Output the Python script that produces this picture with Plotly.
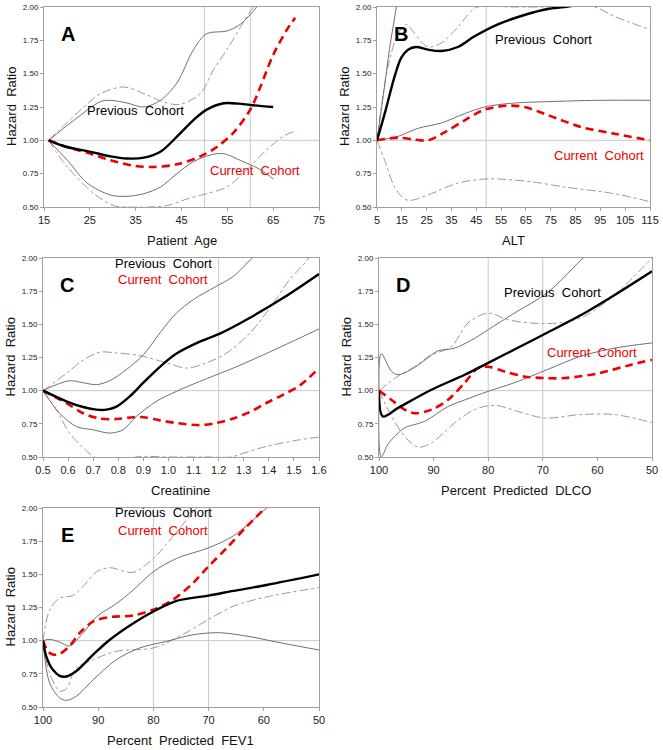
import plotly.graph_objects as go

# ---------------- Data ----------------
# Panel A: Patient Age
A_prev_x = [16, 20, 25.2, 29.5, 33.1, 36.8, 40.4, 44, 47.6, 50.5, 54.2, 57.5, 60, 65]
A_prev_y = [1.00, 0.95, 0.914, 0.88, 0.864, 0.87, 0.914, 1.027, 1.152, 1.23, 1.278, 1.275, 1.265, 1.25]
A_cur_x = [16, 20, 25.2, 29.5, 34.6, 38.9, 44, 49.1, 52.7, 56.4, 60, 62.2, 65, 68, 69.8]
A_cur_y = [1.00, 0.95, 0.90, 0.85, 0.81, 0.80, 0.82, 0.88, 0.95, 1.06, 1.23, 1.40, 1.64, 1.83, 1.92]
A_prev_up_x = [16, 21.5, 27.3, 29.5, 33.1, 36.8, 40.4, 44, 47.6, 50.5, 54.9, 57.8, 61.4, 63]
A_prev_up_y = [1.00, 1.15, 1.29, 1.30, 1.28, 1.25, 1.30, 1.43, 1.68, 1.80, 1.82, 1.87, 2.00, 2.08]
A_prev_lo_x = [16, 20.1, 24.4, 29.5, 33.1, 36.8, 40.4, 44, 47.6, 51.3, 54.2, 57.8, 62.2, 65]
A_prev_lo_y = [1.00, 0.85, 0.68, 0.59, 0.58, 0.60, 0.65, 0.75, 0.84, 0.89, 0.90, 0.85, 0.78, 0.71]
A_cur_up_x = [16, 23.7, 27.3, 32.4, 36.8, 41.8, 44.7, 49.1, 52, 54.9, 59.3, 60.7, 62]
A_cur_up_y = [1.00, 1.25, 1.35, 1.40, 1.35, 1.28, 1.27, 1.35, 1.53, 1.68, 1.93, 2.00, 2.06]
A_cur_lo_x = [16, 20.1, 25.9, 30.2, 33, 38, 41.8, 46.2, 50.5, 54.9, 59.3, 63.6, 67.2, 69.8]
A_cur_lo_y = [1.00, 0.80, 0.60, 0.51, 0.50, 0.50, 0.51, 0.56, 0.60, 0.65, 0.78, 0.93, 1.03, 1.07]

# Panel B: ALT
B_prev_x = [5, 8.1, 12.1, 14.8, 17.5, 20.8, 25.5, 30.9, 37.6, 44.3, 53.7, 64.4, 73.8, 80.5, 90]
B_prev_y = [1.00, 1.20, 1.48, 1.62, 1.68, 1.70, 1.68, 1.67, 1.70, 1.78, 1.87, 1.94, 1.985, 2.00, 2.03]
B_cur_x = [5, 13.5, 20.2, 25.5, 32.2, 40.3, 48.3, 57.7, 64.4, 73.8, 87.2, 100.6, 115]
B_cur_y = [1.00, 1.02, 1.005, 1.00, 1.06, 1.15, 1.23, 1.26, 1.25, 1.19, 1.10, 1.05, 1.00]
B_prev_up_x = [5, 8, 10, 12.8, 13.5]
B_prev_up_y = [1.00, 1.40, 1.68, 2.00, 2.08]
B_prev_lo_x = [5, 13.5, 21.5, 30.9, 40.3, 48.3, 60.4, 73.8, 93.9, 115]
B_prev_lo_y = [1.00, 1.03, 1.09, 1.13, 1.20, 1.25, 1.28, 1.29, 1.30, 1.30]
B_cur_up_x = [5, 9.4, 13.5, 16.8, 20.2, 25.5, 30.9, 37.6, 43, 45.6, 60, 80, 92.6, 100.6, 115]
B_cur_up_y = [1.00, 1.55, 1.80, 1.87, 1.80, 1.70, 1.73, 1.85, 1.97, 2.00, 2.00, 2.00, 2.00, 1.93, 1.83]
B_cur_lo_x = [5, 8.1, 12.1, 16.1, 18.8, 26.9, 37.6, 48.3, 53.7, 67.1, 80.5, 100.6, 115]
B_cur_lo_y = [1.00, 0.85, 0.65, 0.56, 0.55, 0.60, 0.68, 0.71, 0.71, 0.69, 0.65, 0.60, 0.54]

# Panel C: Creatinine
C_prev_x = [0.5, 0.593, 0.66, 0.713, 0.753, 0.793, 0.846, 0.9, 0.966, 1.032, 1.125, 1.205, 1.325, 1.458, 1.6]
C_prev_y = [1.00, 0.92, 0.877, 0.857, 0.857, 0.88, 0.957, 1.06, 1.18, 1.28, 1.37, 1.43, 1.55, 1.70, 1.88]
C_cur_x = [0.5, 0.593, 0.66, 0.726, 0.793, 0.86, 0.9, 0.966, 1.032, 1.125, 1.19, 1.258, 1.325, 1.39, 1.458, 1.524, 1.6]
C_cur_y = [1.00, 0.907, 0.83, 0.79, 0.786, 0.80, 0.80, 0.776, 0.756, 0.74, 0.756, 0.79, 0.84, 0.907, 0.97, 1.04, 1.17]
C_prev_up_x = [0.5, 0.553, 0.606, 0.66, 0.713, 0.766, 0.833, 0.9, 0.966, 1.032, 1.099, 1.19, 1.258, 1.334, 1.36]
C_prev_up_y = [1.00, 1.045, 1.075, 1.06, 1.045, 1.075, 1.16, 1.27, 1.435, 1.585, 1.686, 1.786, 1.86, 2.00, 2.04]
C_prev_lo_x = [0.5, 0.566, 0.633, 0.7, 0.766, 0.819, 0.872, 0.952, 1.032, 1.125, 1.258, 1.39, 1.6]
C_prev_lo_y = [1.00, 0.83, 0.73, 0.705, 0.68, 0.705, 0.806, 0.92, 0.995, 1.07, 1.17, 1.28, 1.465]
C_cur_up_x = [0.5, 0.593, 0.66, 0.726, 0.793, 0.886, 0.992, 1.072, 1.152, 1.232, 1.325, 1.418, 1.484, 1.55, 1.57]
C_cur_up_y = [1.00, 1.13, 1.23, 1.29, 1.284, 1.264, 1.21, 1.17, 1.21, 1.284, 1.435, 1.66, 1.84, 1.975, 2.03]
C_cur_lo_x = [0.5, 0.553, 0.606, 0.66, 0.7, 0.78, 0.87, 1.0, 1.15, 1.25, 1.285, 1.39, 1.524, 1.6]
C_cur_lo_y = [1.00, 0.857, 0.68, 0.57, 0.505, 0.44, 0.50, 0.50, 0.50, 0.50, 0.52, 0.58, 0.63, 0.65]

# Panel D: Percent Predicted DLCO
D_prev_x = [100, 99.3, 96.5, 90.4, 84.3, 80, 75.2, 70, 63, 56.9, 50]
D_prev_y = [1.00, 0.806, 0.87, 1.007, 1.12, 1.21, 1.31, 1.42, 1.57, 1.72, 1.90]
D_cur_x = [100, 97.7, 95.3, 93.5, 90.4, 87.4, 84.3, 81.9, 80, 77, 73.4, 69.7, 66, 59.9, 53.8, 50]
D_cur_y = [1.00, 0.93, 0.857, 0.83, 0.857, 0.93, 1.06, 1.17, 1.18, 1.145, 1.107, 1.095, 1.095, 1.13, 1.196, 1.233]
D_prev_up_x = [100, 99.6, 97.7, 96.5, 94.1, 91.6, 89.2, 86.2, 83.1, 80, 75.2, 69.1, 62.6, 61]
D_prev_up_y = [1.00, 1.28, 1.145, 1.12, 1.16, 1.23, 1.30, 1.32, 1.38, 1.46, 1.585, 1.74, 2.00, 2.05]
D_prev_lo_x = [100, 99.6, 98.3, 96.5, 95.3, 91.6, 87.4, 84.3, 80, 75.2, 69.1, 63, 56.9, 50]
D_prev_lo_y = [1.00, 0.50, 0.60, 0.68, 0.72, 0.77, 0.88, 0.93, 0.995, 1.06, 1.16, 1.26, 1.32, 1.36]
D_cur_up_x = [100, 96.5, 93.5, 90.4, 86.8, 83.7, 80, 76.4, 72.1, 67.3, 62.4, 56.9, 50]
D_cur_up_y = [1.00, 1.11, 1.18, 1.27, 1.33, 1.51, 1.585, 1.535, 1.51, 1.51, 1.56, 1.72, 2.00]
D_cur_lo_x = [100, 97.7, 95.3, 92.9, 90.4, 86.2, 82.5, 78.8, 74.6, 69.7, 63, 56.9, 50]
D_cur_lo_y = [1.00, 0.806, 0.655, 0.575, 0.605, 0.756, 0.857, 0.89, 0.844, 0.794, 0.82, 0.82, 0.76]

# Panel E: Percent Predicted FEV1
E_prev_x = [100, 99.4, 98.2, 97, 95.8, 94, 90.9, 87.9, 83.7, 80, 75.8, 70, 65.5, 59.5, 50]
E_prev_y = [1.00, 0.88, 0.78, 0.735, 0.73, 0.77, 0.895, 1.007, 1.13, 1.22, 1.30, 1.34, 1.375, 1.42, 1.50]
E_cur_x = [100, 99.1, 98.2, 97, 95.2, 93.3, 90.9, 87.9, 83.7, 80, 76.4, 72.8, 70, 66.7, 63.1, 59.8, 59]
E_cur_y = [1.00, 0.92, 0.895, 0.90, 0.96, 1.06, 1.145, 1.178, 1.19, 1.234, 1.31, 1.435, 1.56, 1.70, 1.86, 2.00, 2.04]
E_prev_up_x = [100, 98.8, 97, 95.2, 92.7, 90.3, 86.7, 83.7, 80, 75.8, 70, 65.5, 59.5, 58.5]
E_prev_up_y = [1.00, 1.01, 0.99, 0.96, 1.06, 1.18, 1.28, 1.38, 1.52, 1.62, 1.70, 1.79, 2.00, 2.04]
E_prev_lo_x = [100, 98.8, 97, 95.8, 94, 90.9, 86.7, 82.5, 77.6, 72.8, 68, 62.5, 56.5, 50]
E_prev_lo_y = [1.00, 0.68, 0.57, 0.55, 0.58, 0.705, 0.857, 0.945, 0.995, 1.045, 1.06, 1.03, 0.98, 0.93]
E_cur_up_x = [100, 98.8, 97, 94.6, 92.7, 90.3, 87.9, 83.7, 80, 75.8, 72.2, 71]
E_cur_up_y = [1.00, 1.23, 1.32, 1.34, 1.41, 1.52, 1.55, 1.515, 1.62, 1.82, 2.00, 2.05]
E_cur_lo_x = [100, 98.8, 97, 95.8, 94, 90.9, 86.7, 80, 75.8, 70, 65.5, 59.5, 50]
E_cur_lo_y = [1.00, 0.756, 0.62, 0.635, 0.794, 0.857, 0.92, 0.945, 1.02, 1.16, 1.26, 1.33, 1.40]

# Axis ticks and labels
y_ticks = [0.50, 0.75, 1.00, 1.25, 1.50, 1.75, 2.00]
A_ticks = [15, 25, 35, 45, 55, 65, 75]
B_ticks = [5, 15, 25, 35, 45, 55, 65, 75, 85, 95, 105, 115]
C_ticks = [0.5, 0.6, 0.7, 0.8, 0.9, 1.0, 1.1, 1.2, 1.3, 1.4, 1.5, 1.6]
DE_ticks = [100, 90, 80, 70, 60, 50]
ref_x = {"A": [50, 60], "B": [49], "C": [1.2], "D": [80, 70], "E": [80, 70]}
ref_y = 1.0
x_titles = {"A": "Patient  Age", "B": "ALT", "C": "Creatinine",
            "D": "Percent  Predicted  DLCO", "E": "Percent  Predicted  FEV1"}
y_title = "Hazard  Ratio"
prev_label = "Previous  Cohort"
cur_label = "Current  Cohort"

# ---------------- Figure ----------------
W, H = 663, 750
FONT = "Arial, Liberation Sans, sans-serif"
fig = go.Figure()


def fx(p):
    return min(1.0, max(0.0, p / W))


def fy(p):
    return min(1.0, max(0.0, 1 - p / H))


# plot area boxes in screen pixels (left, right, top, bottom)
boxes = {
    "A": (44, 319, 7, 207),
    "B": (377, 650, 7, 207),
    "C": (43, 319, 258, 457),
    "D": (379, 652, 258, 457),
    "E": (43, 319, 508, 707),
}
xranges = {"A": [15, 75], "B": [5, 115], "C": [0.5, 1.6], "D": [100, 50], "E": [100, 50]}
xticks = {"A": A_ticks, "B": B_ticks, "C": C_ticks, "D": DE_ticks, "E": DE_ticks}
xfmt = {"A": "d", "B": "d", "C": ".1f", "D": "d", "E": "d"}

data = {
    "A": (A_prev_x, A_prev_y, A_cur_x, A_cur_y, A_prev_up_x, A_prev_up_y, A_prev_lo_x, A_prev_lo_y,
          A_cur_up_x, A_cur_up_y, A_cur_lo_x, A_cur_lo_y),
    "B": (B_prev_x, B_prev_y, B_cur_x, B_cur_y, B_prev_up_x, B_prev_up_y, B_prev_lo_x, B_prev_lo_y,
          B_cur_up_x, B_cur_up_y, B_cur_lo_x, B_cur_lo_y),
    "C": (C_prev_x, C_prev_y, C_cur_x, C_cur_y, C_prev_up_x, C_prev_up_y, C_prev_lo_x, C_prev_lo_y,
          C_cur_up_x, C_cur_up_y, C_cur_lo_x, C_cur_lo_y),
    "D": (D_prev_x, D_prev_y, D_cur_x, D_cur_y, D_prev_up_x, D_prev_up_y, D_prev_lo_x, D_prev_lo_y,
          D_cur_up_x, D_cur_up_y, D_cur_lo_x, D_cur_lo_y),
    "E": (E_prev_x, E_prev_y, E_cur_x, E_cur_y, E_prev_up_x, E_prev_up_y, E_prev_lo_x, E_prev_lo_y,
          E_cur_up_x, E_cur_up_y, E_cur_lo_x, E_cur_lo_y),
}

# label centres in screen pixels for each panel (previous, current)
label_px = {
    "A": ((135, 110), (255, 170)),
    "B": ((543, 39), (599, 155)),
    "C": ((163, 263), (163, 280)),
    "D": ((552, 292), (592, 352)),
    "E": ((163, 512), (163, 530)),
}

GRID = "#c8c8c8"
FRAME = "#a0a0a0"
BLACK = "#000000"
RED = "#ee0000"
GRAY = "#707070"
PINK = "#c08a8a"


def paper_note(px, py, text, size, color, angle=0):
    fig.add_annotation(x=fx(px), y=fy(py), xref="paper", yref="paper", text=text,
                       xanchor="center", yanchor="middle", textangle=angle, showarrow=False,
                       font=dict(family=FONT, size=size, color=color))


for i, key in enumerate(["A", "B", "C", "D", "E"]):
    n = i + 1
    xa = "x" if n == 1 else f"x{n}"
    ya = "y" if n == 1 else f"y{n}"
    l, r, t, b = boxes[key]
    dom_x = [fx(l), fx(r)]
    dom_y = [fy(b), fy(t)]
    axkw = dict(showgrid=False, zeroline=False, showline=True, linecolor=FRAME, linewidth=1,
                mirror=True, ticks="outside", ticklen=3, tickcolor=FRAME, automargin=False)
    fig.layout[f"xaxis{'' if n == 1 else n}"] = dict(
        domain=dom_x, anchor=ya, range=xranges[key], tickvals=xticks[key], tickformat=xfmt[key],
        tickfont=dict(family=FONT, size=11, color="#222"), **axkw)
    fig.layout[f"yaxis{'' if n == 1 else n}"] = dict(
        domain=dom_y, anchor=xa, range=[0.5, 2.0], tickvals=y_ticks, tickformat=".2f",
        tickfont=dict(family=FONT, size=8, color="#222"), **axkw)

    (px, py, cx, cy, pux, puy, plx, ply, cux, cuy, clx, cly) = data[key]

    # reference lines
    for rx in ref_x[key]:
        fig.add_trace(go.Scatter(x=[rx, rx], y=[0.5, 2.0], mode="lines", xaxis=xa, yaxis=ya,
                                 line=dict(color=GRID, width=1), hoverinfo="skip", showlegend=False))
    fig.add_trace(go.Scatter(x=xranges[key], y=[ref_y, ref_y], mode="lines", xaxis=xa, yaxis=ya,
                             line=dict(color=GRID, width=1), hoverinfo="skip", showlegend=False))

    def add(x, y, color, width, dash="solid"):
        fig.add_trace(go.Scatter(x=x, y=y, mode="lines", xaxis=xa, yaxis=ya,
                                 line=dict(color=color, width=width, dash=dash, shape="spline",
                                           smoothing=0.9),
                                 showlegend=False))

    add(cux, cuy, PINK, 1, "dashdot")
    add(clx, cly, PINK, 1, "dashdot")
    add(pux, puy, GRAY, 1)
    add(plx, ply, GRAY, 1)
    add(cx, cy, RED, 2.6, "8px,5px")
    add(px, py, BLACK, 2.4)

    # cohort labels
    (pl, cl) = label_px[key]
    paper_note(pl[0], pl[1], prev_label, 13, "#000")
    paper_note(cl[0], cl[1], cur_label, 13, RED)

    # panel letter
    paper_note(l + 24, t + 27, f"<b>{key}</b>", 20, "#000")
    # axis titles
    paper_note((l + r) / 2, b + 33, x_titles[key], 13, "#111")
    paper_note(l - 33, (t + b) / 2, y_title, 13, "#111", angle=-90)

fig.update_layout(width=W, height=H, margin=dict(l=0, r=0, t=0, b=0),
                  paper_bgcolor="white", plot_bgcolor="white", showlegend=False)
# remove the default 8px page margin so the figure sits at the window's corner
fig.write_html("out.html", config={"displayModeBar": False},
               post_script="document.body.style.margin='0';document.body.style.overflow='hidden';")
